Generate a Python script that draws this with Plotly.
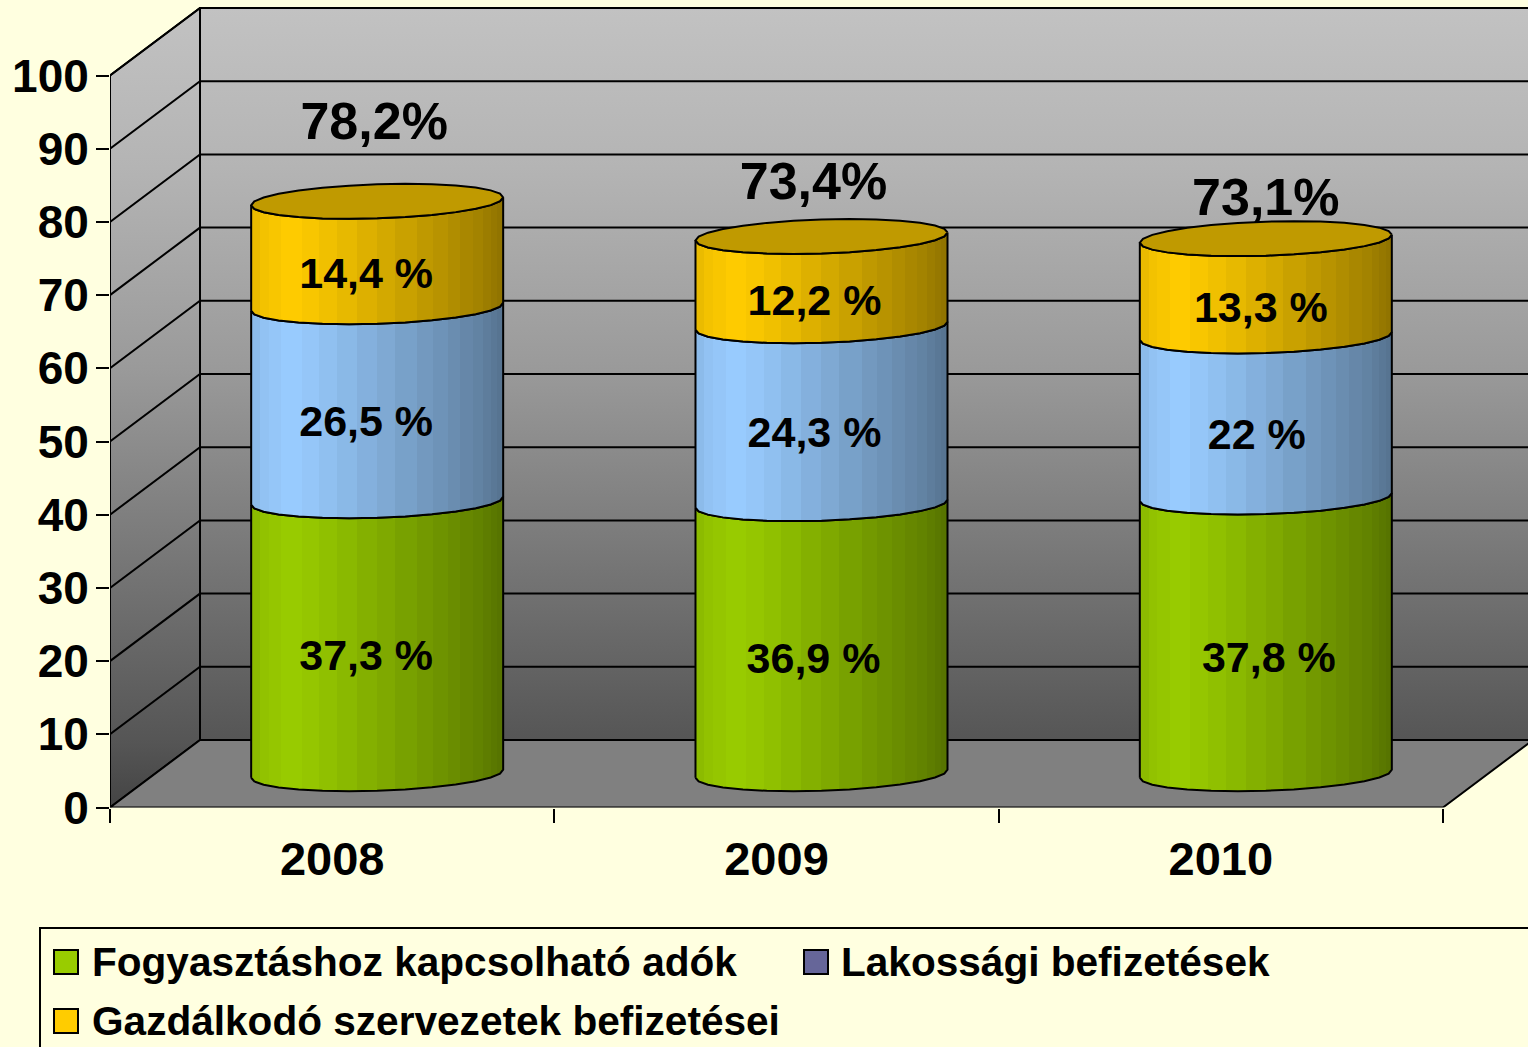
import math
import plotly.graph_objects as go

# ---------- data ----------
years = ["2008", "2009", "2010"]
consumption = [37.3, 36.9, 37.8]
household = [26.5, 24.3, 22.0]
business = [14.4, 12.2, 13.3]
totals = ["78,2%", "73,4%", "73,1%"]
consumption_labels = ["37,3 %", "36,9 %", "37,8 %"]
household_labels = ["26,5 %", "24,3 %", "22 %"]
business_labels = ["14,4 %", "12,2 %", "13,3 %"]
y_ticks = list(range(0, 101, 10))
legend_names = ["Fogyasztáshoz kapcsolható adók", "Lakossági befizetések",
                "Gazdálkodó szervezetek befizetései"]
legend_colors = ["#99CC00", "#666699", "#FFCC00"]

# ---------- geometry of the 3-D look (pixels per axis unit) ----------
W, H = 1528, 1047
X0, Y0 = 110, 807.5          # origin of the front plane
PX_X, PX_Y = 444.33, 7.32    # px per category, px per percent
DX, DY = 90 / PX_X, 67.5 / PX_Y  # depth shift of the rear wall
BG = "#FFFFE0"
FONT = "Liberation Sans, Arial, sans-serif"


def uy(px):
    return (Y0 - px) / PX_Y


def scale(hexc, f):
    r, g, b = int(hexc[1:3], 16), int(hexc[3:5], 16), int(hexc[5:7], 16)
    return f"rgb({round(r*f)},{round(g*f)},{round(b*f)})"


# brightness across a cylinder: facet edges (fraction of width) and lighting
FACETS = [0, .035, .07, .12, .20, .27, .34, .42, .50, .57, .66, .72, .78, .83, .88, .92, .95, .975, 1]
LIGHT = [(0, .90), (.06, .96), (.17, 1.0), (.33, .93), (.55, .82), (.75, .72), (.90, .64), (1, .56)]


def light_at(p):
    for (p0, f0), (p1, f1) in zip(LIGHT, LIGHT[1:]):
        if p <= p1:
            return f0 + (f1 - f0) * (p - p0) / (p1 - p0)
    return LIGHT[-1][1]


def shade(hexc):
    out = []
    for a, b in zip(FACETS, FACETS[1:]):
        col = scale(hexc, light_at((a + b) / 2))
        out += [[a, col], [b, col]]
    return out


fig = go.Figure()
WALL = [[0, "#444444"], [.08, "#555555"], [.25, "#6e6e6e"], [.55, "#9a9a9a"],
        [.8, "#b4b4b4"], [1, "#c2c2c2"]]
WALL_LINE = dict(color="black", width=2)


def poly(xs, ys, **kw):
    fig.add_trace(go.Scatter(x=xs, y=ys, mode="lines", hoverinfo="skip",
                             showlegend=False, **kw))


grad = dict(type="vertical", colorscale=WALL, start=0, stop=uy(8))
# rear wall
poly([DX, 3 + DX, 3 + DX, DX, DX], [DY, DY, 100 + DY, 100 + DY, DY], fill="toself",
     fillgradient=grad, line=WALL_LINE)
# side wall
poly([0, DX, DX, 0, 0], [0, DY, 100 + DY, 100, 0], fill="toself",
     fillgradient=grad, line=WALL_LINE)
# floor
poly([0, 3, 3 + DX, DX, 0], [0, 0, DY, DY, 0], fill="toself", fillcolor="#808080",
     line=WALL_LINE)
# gridlines
gx, gy = [], []
for t in y_ticks[1:]:
    gx += [0, DX, 3 + DX, None]
    gy += [t, t + DY, t + DY, None]
poly(gx, gy, line=dict(color="black", width=2))

# ---------- cylinders ----------
RX = 126 / PX_X
RY = 17 / PX_Y
TILT = 4 / PX_Y
N = 14


def arc(c, v, a0, a1, n=N):
    xs, ys = [], []
    for i in range(n + 1):
        a = a0 + (a1 - a0) * i / n
        xs.append(c + RX * math.cos(a))
        ys.append(v + RY * math.sin(a) + TILT * math.cos(a))
    return xs, ys


for i in range(3):
    c = i + 0.5 + DX / 2
    level = DY / 2
    for vals, col in ((consumption, "#99CC00"), (household, "#99CCFF"), (business, "#FFCC00")):
        top = level + vals[i]
        x1, y1 = arc(c, level, math.pi, 2 * math.pi)   # lower front edge
        x2, y2 = arc(c, top, 2 * math.pi, math.pi)     # upper front edge
        poly(x1 + x2 + x1[:1], y1 + y2 + y1[:1], fill="toself",
             fillgradient=dict(type="horizontal", colorscale=shade(col)),
             line=dict(color="black", width=2))
        level = top
    x3, y3 = arc(c, level, 0, 2 * math.pi, 2 * N)
    poly(x3, y3, fill="toself", fillcolor="#C09A00", line=dict(color="black", width=2))


# ---------- value labels ----------
def label_trace(xs, ys, texts, size):
    fig.add_trace(go.Scatter(x=xs, y=ys, mode="text", text=texts, showlegend=False,
                             textposition="middle center", cliponaxis=False, hoverinfo="skip",
                             textfont=dict(family=FONT, size=size, color="black",
                                           weight="bold")))


lab_x, lab_y, lab_t = [], [], []
nudge_x = [[-11, -8, 3], [-11, -7, -9], [-11, -7, -5]]  # px, per series per year
nudge_y = [[-22, -24, -26], [-22, -22, -22], [-23, -23, -24]]  # px, per series per year
for i in range(3):
    c = i + 0.5 + DX / 2
    level = DY / 2
    for s, (vals, texts) in enumerate(((consumption, consumption_labels),
                                       (household, household_labels),
                                       (business, business_labels))):
        lab_x.append(c + nudge_x[s][i] / PX_X)
        lab_y.append(level + vals[i] / 2 + nudge_y[s][i] / PX_Y)
        lab_t.append(texts[i])
        level += vals[i]
label_trace(lab_x, lab_y, lab_t, 43)

total_nudge_x = [-3, -8, 0]
total_nudge_y = [75, 50, 37]
tot_x = [i + 0.5 + DX / 2 + total_nudge_x[i] / PX_X for i in range(3)]
tot_y = [DY / 2 + consumption[i] + household[i] + business[i] + total_nudge_y[i] / PX_Y
         for i in range(3)]
label_trace(tot_x, tot_y, totals, 52)

# ---------- legend panel, on a second pair of axes spanning the whole page in pixels ----------
legend_axes = dict(xaxis="x2", yaxis="y2")
poly([W + 20, 40, 40], [928, 928, H + 20], line=dict(color="black", width=2), **legend_axes)
swatch_px = [(66, 962), (816, 962), (66, 1021)]
text_px = [92, 841, 92]
for (sx, sy), tx, name, col in zip(swatch_px, text_px, legend_names, legend_colors):
    fig.add_trace(go.Scatter(x=[sx], y=[sy], mode="markers", showlegend=False, hoverinfo="skip",
                             marker=dict(symbol="square", size=24, color=col,
                                         line=dict(color="black", width=2)), **legend_axes))
    fig.add_trace(go.Scatter(x=[tx], y=[sy + 4], mode="text", text=[name], cliponaxis=False,
                             showlegend=False, hoverinfo="skip", textposition="middle right",
                             textfont=dict(family=FONT, size=40.6, color="black", weight="bold"),
                             **legend_axes))

fig.update_layout(
    width=W, height=H, autosize=False,
    margin=dict(l=0, r=0, t=0, b=0, pad=0),
    paper_bgcolor=BG, plot_bgcolor="rgba(0,0,0,0)", showlegend=False,
    font=dict(family=FONT, color="black"),
    xaxis=dict(domain=[X0 / W, 1], range=[0, (W - X0) / PX_X], showgrid=False, zeroline=False,
               showline=False, tickmode="array", tickvals=[0.5, 1.5, 2.5], ticktext=years,
               ticks="", tickfont=dict(family=FONT, size=47, color="black", weight="bold"),
               ticklabelstandoff=19, automargin=False, fixedrange=True,
               minor=dict(tickmode="array", tickvals=[0, 1, 2, 3], ticks="outside", ticklen=14,
                          tickwidth=2, tickcolor="black", showgrid=False)),
    yaxis=dict(domain=[(H - Y0) / H, 1], range=[0, Y0 / PX_Y], showgrid=False, zeroline=False,
               showline=False, tickmode="array", tickvals=y_ticks,
               ticktext=[str(t) for t in y_ticks],
               ticks="outside", ticklen=13, tickwidth=2, tickcolor="black",
               tickfont=dict(family=FONT, size=46, color="black", weight="bold"),
               ticklabelstandoff=-2, automargin=False, fixedrange=True),
    xaxis2=dict(domain=[0, 1], range=[0, W], visible=False, anchor="y2", fixedrange=True),
    yaxis2=dict(domain=[0, 1], range=[H, 0], visible=False, anchor="x2", fixedrange=True),
)
fig.write_html("out.html", config=dict(displayModeBar=False),
               post_script="document.body.style.margin='0';document.body.style.overflow='hidden';")
